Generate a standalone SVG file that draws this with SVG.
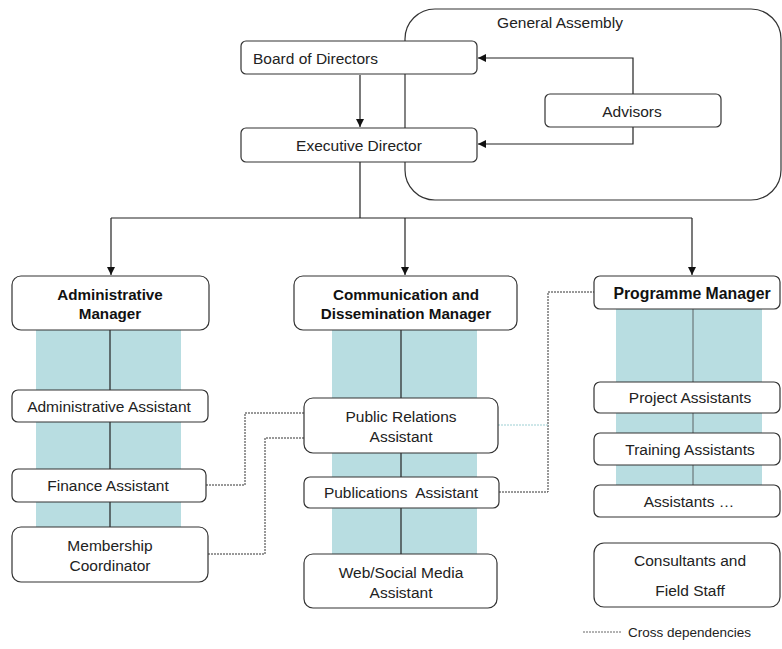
<svg xmlns="http://www.w3.org/2000/svg" width="782" height="649" viewBox="0 0 782 649">
<style>
.box{fill:#fff;stroke:#333;stroke-width:1.2}
.t{font-family:"Liberation Sans",Arial,sans-serif;font-size:15.5px;fill:#222;text-anchor:middle;dominant-baseline:central}
.b{font-weight:bold;fill:#111;font-size:15.2px}
.band{fill:#b8dde1}
.ln{fill:none;stroke:#222;stroke-width:1.2}
.arr{marker-end:url(#ah)}
.dash{fill:none;stroke:#333;stroke-width:1;stroke-dasharray:2 1}
.ldash{fill:none;stroke:#9ccfd3;stroke-width:1;stroke-dasharray:2 1}
.thin{fill:none;stroke:#444;stroke-width:0.8}
</style>
<defs>
<marker id="ah" viewBox="0 0 10 10" refX="10" refY="5" markerWidth="8" markerHeight="8" markerUnits="userSpaceOnUse" orient="auto">
<path d="M0,0 L10,5 L0,10 z" fill="#111"/>
</marker>
</defs>
<rect width="782" height="649" fill="#fff"/>

<g id="general-assembly">
<rect x="405" y="9" width="376" height="191" rx="30" ry="30" fill="#fff" stroke="#333" stroke-width="1.2"/>
<text class="t" x="560" y="22">General Assembly</text>
</g>

<g id="bands">
<rect class="band" x="36" y="330" width="145" height="197"/>
<rect class="band" x="332" y="330" width="145" height="224"/>
<rect class="band" x="616" y="309" width="146" height="176"/>
</g>

<g id="connectors">
<path class="ln arr" d="M360,75 V127"/>
<path class="ln arr" d="M633,94 V58 H478"/>
<path class="ln arr" d="M633,127 V144 H478"/>
<path class="ln" d="M360,162 V218 M111,218 H692"/>
<path class="ln arr" d="M111,218 V275"/>
<path class="ln arr" d="M405,218 V275"/>
<path class="ln arr" d="M692,218 V275"/>
<path class="ln" d="M110,330 V527"/>
<path class="ln" d="M401,330 V554"/>
<path class="thin" d="M693,309 V485"/>
<path class="dash" d="M206,485 H245 V413 H304"/>
<path class="dash" d="M208,554 H265 V438 H304"/>
<path class="dash" d="M499,492 H548 V292 H594"/>
<path class="ldash" d="M498,425 H548"/>
</g>

<g id="board"><rect class="box" x="241" y="41" width="236" height="33" rx="5"/><text class="t" x="253" y="58" style="text-anchor:start">Board of Directors</text></g>
<g id="executive"><rect class="box" x="241" y="128" width="236" height="34" rx="5"/><text class="t" x="359" y="145">Executive Director</text></g>
<g id="advisors"><rect class="box" x="545" y="94" width="176" height="33" rx="5"/><text class="t" x="632" y="111">Advisors</text></g>

<g id="admin-manager"><rect class="box" x="12" y="276" width="197" height="54" rx="9"/><text class="t b" x="110" y="294">Administrative</text><text class="t b" x="110" y="313">Manager</text></g>
<g id="admin-assistant"><rect class="box" x="12" y="390" width="196" height="32" rx="6"/><text class="t" x="109" y="406">Administrative Assistant</text></g>
<g id="finance-assistant"><rect class="box" x="12" y="469" width="194" height="33" rx="6"/><text class="t" x="108" y="485">Finance Assistant</text></g>
<g id="membership"><rect class="box" x="12" y="527" width="196" height="55" rx="9"/><text class="t" x="110" y="545">Membership</text><text class="t" x="110" y="565">Coordinator</text></g>

<g id="comm-manager"><rect class="box" x="294" y="276" width="223" height="54" rx="9"/><text class="t b" x="406" y="294">Communication and</text><text class="t b" x="406" y="313">Dissemination Manager</text></g>
<g id="pr-assistant"><rect class="box" x="304" y="398" width="194" height="55" rx="9"/><text class="t" x="401" y="416">Public Relations</text><text class="t" x="401" y="436">Assistant</text></g>
<g id="publications"><rect class="box" x="304" y="477" width="195" height="31" rx="6"/><text class="t" x="401" y="492" xml:space="preserve">Publications  Assistant</text></g>
<g id="web-social"><rect class="box" x="304" y="554" width="193" height="54" rx="9"/><text class="t" x="401" y="572">Web/Social Media</text><text class="t" x="401" y="592">Assistant</text></g>

<g id="programme-manager"><rect class="box" x="594" y="276" width="186" height="33" rx="6"/><text class="t b" x="692" y="293" style="font-size:15.8px">Programme Manager</text></g>
<g id="project-assistants"><rect class="box" x="594" y="382" width="186" height="31" rx="6"/><text class="t" x="690" y="397">Project Assistants</text></g>
<g id="training-assistants"><rect class="box" x="594" y="433" width="186" height="32" rx="6"/><text class="t" x="690" y="449">Training Assistants</text></g>
<g id="assistants"><rect class="box" x="594" y="485" width="186" height="32" rx="6"/><text class="t" x="689" y="501">Assistants …</text></g>
<g id="consultants"><rect class="box" x="594" y="543" width="186" height="64" rx="10"/><text class="t" x="690" y="560">Consultants and</text><text class="t" x="690" y="590">Field Staff</text></g>

<g id="legend">
<line x1="583" y1="632" x2="622" y2="632" stroke="#666" stroke-width="1" stroke-dasharray="2 1"/>
<text class="t" x="628" y="632" style="text-anchor:start;font-size:13.5px">Cross dependencies</text>
</g>
</svg>
